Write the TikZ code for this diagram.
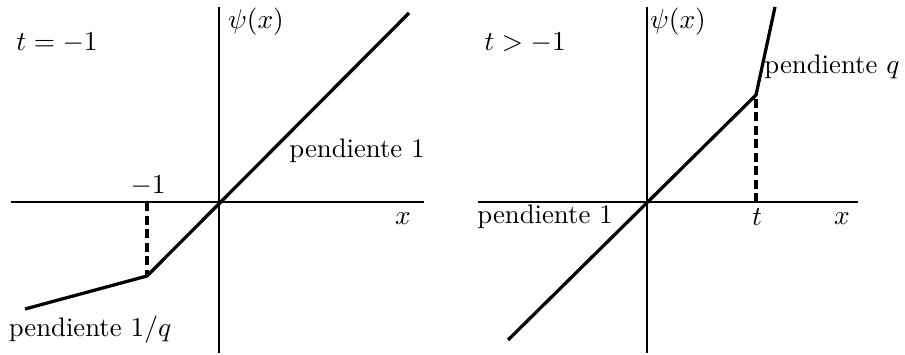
\documentclass[tikz,border=0pt]{standalone}
\begin{document}
\begin{tikzpicture}[x=0.4pt,y=-0.4pt,
  axis/.style={line width=0.9pt},
  graph/.style={line width=1.3pt, line join=round},
  guide/.style={line width=1.3pt, dash pattern=on 3.6pt off 1.8pt},
  lbl/.style={inner sep=0pt, font=\fontsize{10.7pt}{12.5pt}\selectfont}]
\useasboundingbox (0,0) rectangle (905,354);
% left panel
\coordinate (LyT) at (219,7);
\coordinate (LyB) at (219,353);
\coordinate (LxL) at (11,202);
\coordinate (LxR) at (424,202);
\coordinate (LO) at (219,202);
\coordinate (Ltop) at (409,13);
\coordinate (Lk) at (147,276);
\coordinate (Lkx) at (147,202);
\coordinate (Lend) at (25,309);
\draw[axis] (LyT) -- (LyB);
\draw[axis] (LxL) -- (LxR);
\draw[guide] (Lkx) -- (Lk);
\draw[graph] (Lend) -- (Lk) -- (Ltop);
\node[lbl] (lt) at (57,43) {$t=-1$};
\node[lbl] (lpsi) at (256,22) {$\psi(x)$};
\node[lbl] (lp1) at (357,151) {pendiente 1};
\node[lbl] (lm1) at (148,186) {$-1$};
\node[lbl] (lx) at (403,219) {$x$};
\node[lbl] (lpq) at (90,330) {pendiente $1/q$};
% right panel
\coordinate (RyT) at (647,7);
\coordinate (RyB) at (647,353);
\coordinate (RxL) at (478,202);
\coordinate (RxR) at (858,202);
\coordinate (Rbot) at (508,340);
\coordinate (Rk) at (756,95);
\coordinate (Rkx) at (756,202);
\coordinate (Rtop) at (775,7);
\draw[axis] (RyT) -- (RyB);
\draw[axis] (RxL) -- (RxR);
\draw[guide] (Rkx) -- (Rk);
\draw[graph] (Rbot) -- (Rk) -- (Rtop);
\node[lbl] (rt) at (525,43) {$t>-1$};
\node[lbl] (rpsi) at (678,22) {$\psi(x)$};
\node[lbl] (rpq) at (832,67) {pendiente $q$};
\node[lbl] (rp1) at (545,217) {pendiente 1};
\node[lbl] (rtt) at (757,217) {$t$};
\node[lbl] (rx) at (842,219) {$x$};
\end{tikzpicture}
\end{document}
